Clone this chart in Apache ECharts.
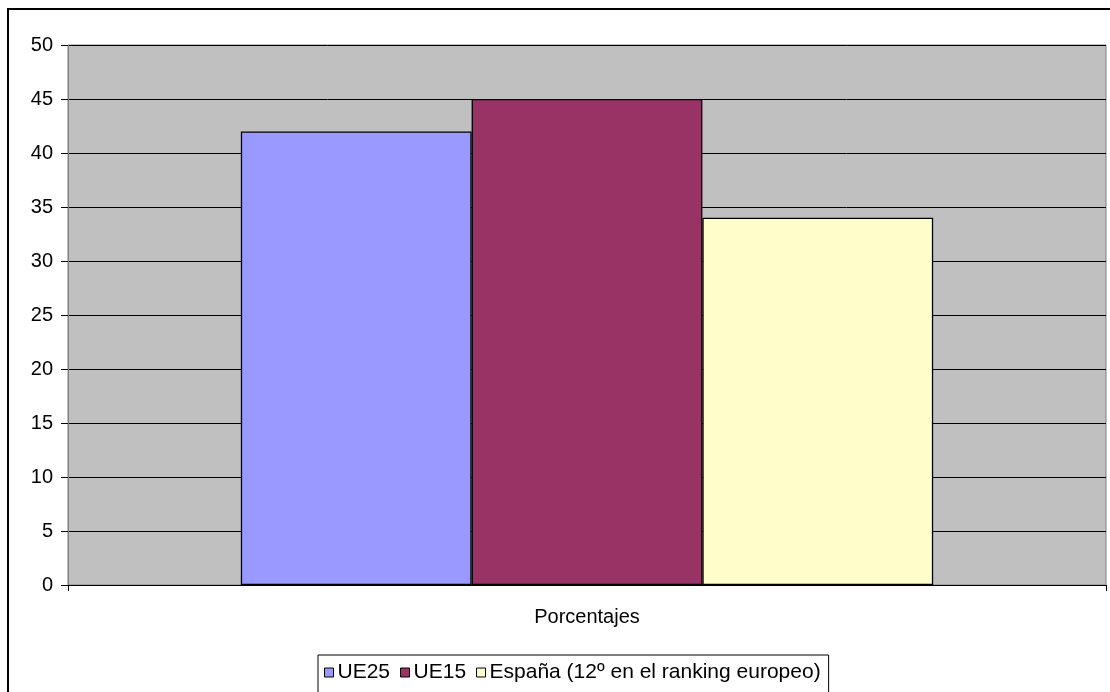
<!DOCTYPE html>
<html>
<head>
<meta charset="utf-8">
<script src="https://cdn.jsdelivr.net/npm/echarts@6/dist/echarts.min.js"></script>
<style>
  html, body { margin: 0; padding: 0; background: #fff; }
  #chart { width: 1110px; height: 692px; }
</style>
</head>
<body>
<div id="chart"></div>
<script>
// Categories, series and axis ticks
const categories = ['Porcentajes'];
const seriesNames = ['UE25', 'UE15', 'España (12º en el ranking europeo)'];
const ue25 = [42];
const ue15 = [45];
const espana = [34];
const yTicks = { min: 0, max: 50, step: 5 };

const colors = ['#9999ff', '#993366', '#ffffcc'];
const values = [ue25, ue15, espana];
const font = '"Liberation Sans", Arial, sans-serif';

const chart = echarts.init(document.getElementById('chart'), null, { renderer: 'canvas' });

chart.setOption({
  animation: false,
  backgroundColor: '#ffffff',
  textStyle: { fontFamily: font, color: '#000' },
  graphic: [{
    type: 'rect',
    shape: { x: 8, y: 9, width: 1200, height: 800 },
    style: { fill: 'none', stroke: '#000', lineWidth: 2 },
    silent: true,
    z: 100
  }],
  grid: {
    left: 68, right: 4, top: 45, bottom: 107,
    show: true,
    backgroundColor: '#c0c0c0',
    borderColor: '#808080',
    borderWidth: 1
  },
  legend: {
    left: 318, top: 655,
    padding: [7, 8, 14, 6],
    borderColor: '#000',
    borderWidth: 1,
    itemWidth: 9, itemHeight: 9, itemGap: 10,
    icon: 'rect',
    textStyle: { fontFamily: font, fontSize: 21, color: '#000', padding: [0, 0, 0, -1] },
    itemStyle: { borderColor: '#000', borderWidth: 1 },
    data: seriesNames
  },
  xAxis: {
    type: 'category',
    data: categories,
    axisLine: { lineStyle: { color: '#000', width: 1 } },
    axisTick: { show: true, length: 6, lineStyle: { color: '#000' } },
    axisLabel: { fontFamily: font, fontSize: 20, color: '#000', margin: 22 }
  },
  yAxis: {
    type: 'value',
    min: yTicks.min, max: yTicks.max, interval: yTicks.step,
    axisLine: { show: true, lineStyle: { color: '#808080', width: 1 } },
    axisTick: { show: true, length: 7, lineStyle: { color: '#000' } },
    axisLabel: { fontFamily: font, fontSize: 20, color: '#000', margin: 15 },
    splitLine: { show: true, lineStyle: { color: '#000', width: 1 } }
  },
  series: seriesNames.map((name, i) => ({
    name: name,
    type: 'bar',
    data: values[i],
    barGap: '0%',
    barCategoryGap: '33.3%',
    itemStyle: { color: colors[i], borderColor: '#000', borderWidth: 1.3 }
  }))
});
</script>
</body>
</html>
